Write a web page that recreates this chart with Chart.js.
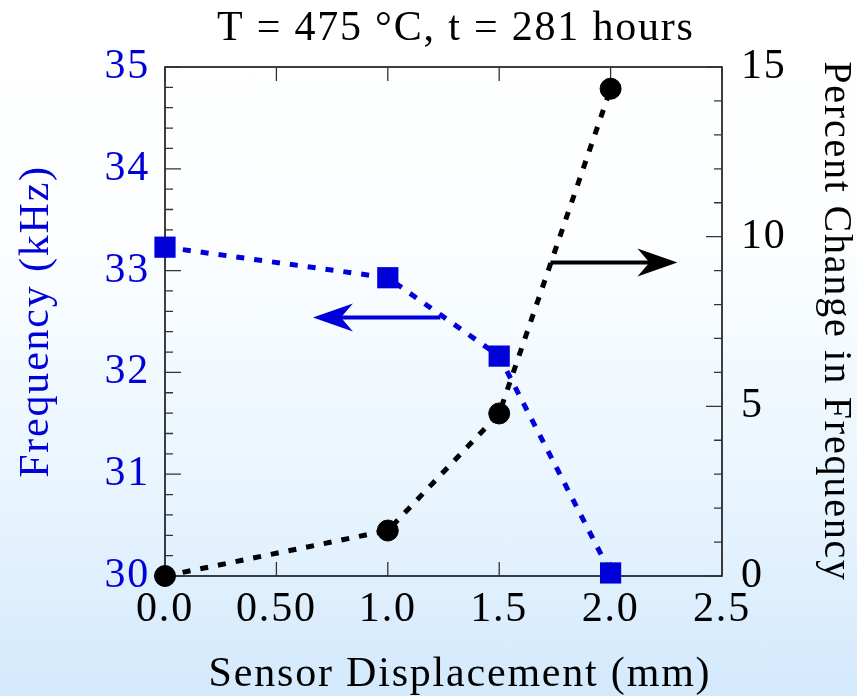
<!DOCTYPE html>
<html>
<head>
<meta charset="utf-8">
<script src="https://cdn.jsdelivr.net/npm/chart.js@4/dist/chart.umd.min.js"></script>
<style>
  html, body { margin: 0; padding: 0; }
  body {
    width: 857px; height: 696px; overflow: hidden;
    background: linear-gradient(to bottom, #ffffff 0%, #fcfeff 35%, #e9f5fe 70%, #d3e9fc 100%);
  }
</style>
</head>
<body>
<canvas id="chart" width="857" height="696"></canvas>
<script>
// data
const displacement = [0.0, 1.0, 1.5, 2.0];
const frequency = [33.23, 32.93, 32.16, 30.03];
const percentChange = [0.0, 1.34, 4.79, 14.36];
const xTickLabels = ['0.0', '0.50', '1.0', '1.5', '2.0', '2.5'];

// arrows pointing at the axis each curve belongs to: [fromX, toX, y]
const freqArrow = [1.236, 0.664, 32.54];
const pctArrow = [1.73, 2.30, 9.24];

const BLUE = '#0000d8';
const FONT = 'Liberation Serif';
const SIZE = 42;
const SPACING = '1.8px';

function drawArrow(ctx, x1, x2, y, color) {
  const dir = Math.sign(x2 - x1);
  ctx.save();
  ctx.strokeStyle = color;
  ctx.fillStyle = color;
  ctx.lineWidth = 4;
  ctx.beginPath();
  ctx.moveTo(x1, y);
  ctx.lineTo(x2 - dir * 25, y);
  ctx.stroke();
  ctx.beginPath();
  ctx.moveTo(x2, y);
  ctx.lineTo(x2 - dir * 40, y - 14);
  ctx.lineTo(x2 - dir * 28, y);
  ctx.lineTo(x2 - dir * 40, y + 14);
  ctx.closePath();
  ctx.fill();
  ctx.restore();
}

// the original type is set a little looser than Liberation Serif
const spacing = {
  id: 'spacing',
  beforeLayout(chart) { chart.ctx.letterSpacing = SPACING; },
  beforeDraw(chart) { chart.ctx.letterSpacing = SPACING; }
};

const frame = {
  id: 'frame',
  beforeDatasetsDraw(chart) {
    const {ctx, chartArea: a, scales} = chart;
    ctx.save();
    ctx.strokeStyle = '#000';
    ctx.lineWidth = 1.5;
    ctx.strokeRect(a.left, a.top, a.right - a.left, a.bottom - a.top);
    ctx.lineWidth = 1.3;
    ctx.strokeStyle = '#333';
    ctx.beginPath();
    // x ticks, bottom and top, pointing inward
    scales.x.ticks.forEach(t => {
      const px = scales.x.getPixelForValue(t.value);
      ctx.moveTo(px, a.bottom); ctx.lineTo(px, a.bottom - 14);
      ctx.moveTo(px, a.top); ctx.lineTo(px, a.top + 14);
    });
    // left axis: majors every 1, minors every 0.2
    const y = scales.y;
    for (let i = 0; i <= (y.max - y.min) * 5; i++) {
      const v = y.min + i * 0.2;
      const py = y.getPixelForValue(v);
      const len = i % 5 === 0 ? 16 : 8;
      ctx.moveTo(a.left, py); ctx.lineTo(a.left + len, py);
    }
    // right axis: majors every 5, minors every 1
    const y1 = scales.y1;
    for (let v = y1.min; v <= y1.max; v++) {
      const py = y1.getPixelForValue(v);
      const len = v % 5 === 0 ? 16 : 8;
      ctx.moveTo(a.right, py); ctx.lineTo(a.right - len, py);
    }
    ctx.stroke();
    ctx.restore();
  },
  afterDatasetsDraw(chart) {
    const {ctx, scales} = chart;
    drawArrow(ctx, scales.x.getPixelForValue(freqArrow[0]), scales.x.getPixelForValue(freqArrow[1]),
      scales.y.getPixelForValue(freqArrow[2]), BLUE);
    drawArrow(ctx, scales.x.getPixelForValue(pctArrow[0]), scales.x.getPixelForValue(pctArrow[1]),
      scales.y1.getPixelForValue(pctArrow[2]), '#000');
  }
};

new Chart(document.getElementById('chart'), {
  type: 'line',
  data: {
    datasets: [
      {
        label: 'Frequency',
        data: displacement.map((d, i) => ({x: d, y: frequency[i]})),
        yAxisID: 'y',
        borderColor: BLUE,
        backgroundColor: BLUE,
        borderWidth: 5,
        borderDash: [8, 10],
        pointStyle: 'rect',
        pointRadius: 15,
        pointBorderWidth: 0,
        clip: false
      },
      {
        label: 'Percent Change',
        data: displacement.map((d, i) => ({x: d, y: percentChange[i]})),
        yAxisID: 'y1',
        borderColor: '#000',
        backgroundColor: '#000',
        borderWidth: 5,
        borderDash: [8, 10],
        pointStyle: 'circle',
        pointRadius: 10.5,
        pointBorderWidth: 1,
        clip: false
      }
    ]
  },
  options: {
    responsive: false,
    animation: false,
    layout: {padding: 0},
    plugins: {
      legend: {display: false},
      tooltip: {enabled: false},
      title: {
        display: true,
        fullSize: false,
        text: '  T = 475 °C, t = 281 hours',
        color: '#000',
        font: {family: FONT, size: SIZE, weight: 'normal', lineHeight: 1},
        padding: {top: 8, bottom: 17}
      }
    },
    scales: {
      x: {
        type: 'linear',
        min: 0, max: 2.5,
        afterFit(s) { s.height = 120; },
        grid: {display: false, drawTicks: false},
        border: {display: false},
        ticks: {
          stepSize: 0.5,
          padding: 9,
          color: '#000',
          font: {family: FONT, size: SIZE},
          callback: (v, i) => xTickLabels[i]
        },
        title: {
          display: true,
          text: '\u2002\u2009Sensor Displacement (mm)',
          color: '#000',
          font: {family: FONT, size: SIZE, lineHeight: 1},
          padding: {top: 0, bottom: 0}
        }
      },
      y: {
        position: 'left',
        min: 30, max: 35,
        afterFit(s) { s.width = 165; },
        grid: {display: false, drawTicks: false},
        border: {display: false},
        ticks: {
          stepSize: 1,
          padding: 15,
          color: BLUE,
          font: {family: FONT, size: SIZE}
        },
        title: {
          display: true,
          text: 'Frequency (kHz)',
          color: BLUE,
          font: {family: FONT, size: SIZE, lineHeight: 1},
          padding: {top: 16, bottom: 0}
        }
      },
      y1: {
        position: 'right',
        min: 0, max: 15,
        afterFit(s) { s.width = 135; },
        grid: {display: false, drawTicks: false},
        border: {display: false},
        ticks: {
          stepSize: 5,
          padding: 19,
          color: '#000',
          font: {family: FONT, size: SIZE}
        },
        title: {
          display: true,
          text: 'Percent Change in Frequency',
          color: '#000',
          font: {family: FONT, size: 40, lineHeight: 1},
          padding: {top: 2, bottom: 0}
        }
      }
    }
  },
  plugins: [spacing, frame]
});
</script>
</body>
</html>
